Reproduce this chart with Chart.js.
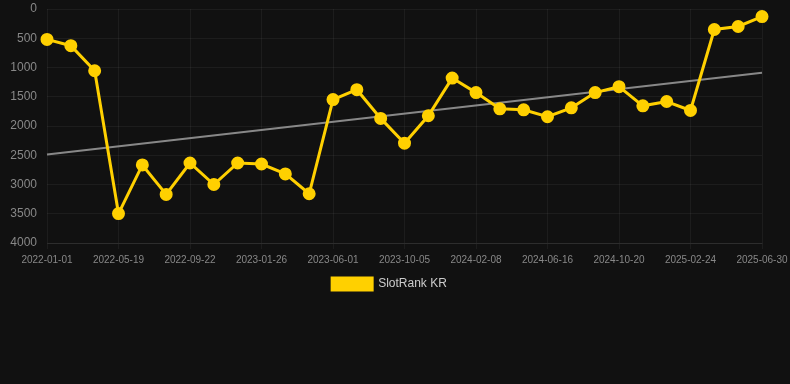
<!DOCTYPE html>
<html>
<head>
<meta charset="utf-8">
<script src="https://cdn.jsdelivr.net/npm/chart.js@4/dist/chart.umd.min.js"></script>
<style>
  html, body { margin: 0; padding: 0; background: #111111; }
  #wrap { position: relative; width: 790px; height: 300px; }
</style>
</head>
<body>
<div id="wrap"><canvas id="c"></canvas></div>
<script>
const dates = [
  "2022-01-01","2022-02-16","2022-04-03","2022-05-19","2022-06-30","2022-08-11",
  "2022-09-22","2022-11-03","2022-12-15","2023-01-26","2023-03-12","2023-04-17",
  "2023-06-01","2023-07-13","2023-08-24","2023-10-05","2023-11-16","2023-12-28",
  "2024-02-08","2024-03-21","2024-05-02","2024-06-16","2024-07-28","2024-09-08",
  "2024-10-20","2024-12-01","2025-01-12","2025-02-24","2025-04-08","2025-05-19",
  "2025-06-30"
];
const rankValues = [
  520, 627, 1056, 3497, 2666, 3169,
  2632, 3000, 2632, 2650, 2819, 3158,
  1548, 1379, 1870, 2294, 1825, 1181,
  1429, 1706, 1723, 1842, 1689, 1429,
  1328, 1655, 1581, 1734, 350, 299,
  130
];
const seriesLabel = "SlotRank KR";
const yTicks = [0, 500, 1000, 1500, 2000, 2500, 3000, 3500, 4000];

// linear regression trend from the data
function trend(vals) {
  const n = vals.length;
  let sx = 0, sy = 0, sxy = 0, sxx = 0;
  vals.forEach((v, i) => { sx += i; sy += v; sxy += i * v; sxx += i * i; });
  const b = (n * sxy - sx * sy) / (n * sxx - sx * sx);
  const a = (sy - b * sx) / n;
  return vals.map((v, i) => (i === 0 || i === n - 1) ? a + b * i : null);
}
const trendValues = trend(rankValues);

new Chart(document.getElementById('c'), {
  type: 'line',
  data: {
    labels: dates,
    datasets: [
      {
        label: seriesLabel,
        data: rankValues,
        borderColor: '#FFD000',
        backgroundColor: '#FFD000',
        borderWidth: 3,
        pointRadius: 5,
        pointHoverRadius: 6,
        pointBackgroundColor: '#FFD000',
        pointBorderColor: '#FFD000',
        tension: 0,
        order: 1
      },
      {
        label: 'trend',
        data: trendValues,
        spanGaps: true,
        borderColor: 'rgba(150,150,150,0.9)',
        borderWidth: 2,
        pointRadius: 0,
        pointHoverRadius: 0,
        fill: false,
        order: 2
      }
    ]
  },
  options: {
    responsive: true,
    maintainAspectRatio: false,
    animation: false,
    layout: { padding: { left: 0, right: 11, top: 0, bottom: 0 } },
    plugins: {
      legend: {
        position: 'bottom',
        labels: {
          color: '#cccccc',
          font: { size: 12, family: 'Arial, "Liberation Sans", sans-serif' },
          boxWidth: 40,
          boxHeight: 12,
          padding: 7,
          filter: (item) => item.text !== 'trend'
        }
      },
      tooltip: { enabled: false }
    },
    scales: {
      x: {
        afterFit: (s) => { s.paddingRight = 28; s.paddingLeft = 0; },
        grid: { color: 'rgba(255,255,255,0.05)', drawTicks: true, tickLength: 6 },
        border: { color: 'rgba(255,255,255,0.08)' },
        ticks: {
          color: '#888888',
          font: { size: 10, family: 'Arial, "Liberation Sans", sans-serif' },
          maxRotation: 0,
          autoSkip: true,
          padding: 5
        }
      },
      y: {
        reverse: true,
        min: 0,
        max: 4000,
        afterBuildTicks: (axis) => { axis.ticks = yTicks.map(v => ({ value: v })); },
        afterFit: (s) => { s.width = 47; s.paddingTop = 7; s.paddingBottom = 7; },
        grid: { color: 'rgba(255,255,255,0.05)', drawTicks: false },
        border: { display: false },
        ticks: {
          color: '#888888',
          font: { size: 12, family: 'Arial, "Liberation Sans", sans-serif' },
          padding: 10,
          callback: (v) => String(v)
        }
      }
    }
  }
});
</script>
</body>
</html>
